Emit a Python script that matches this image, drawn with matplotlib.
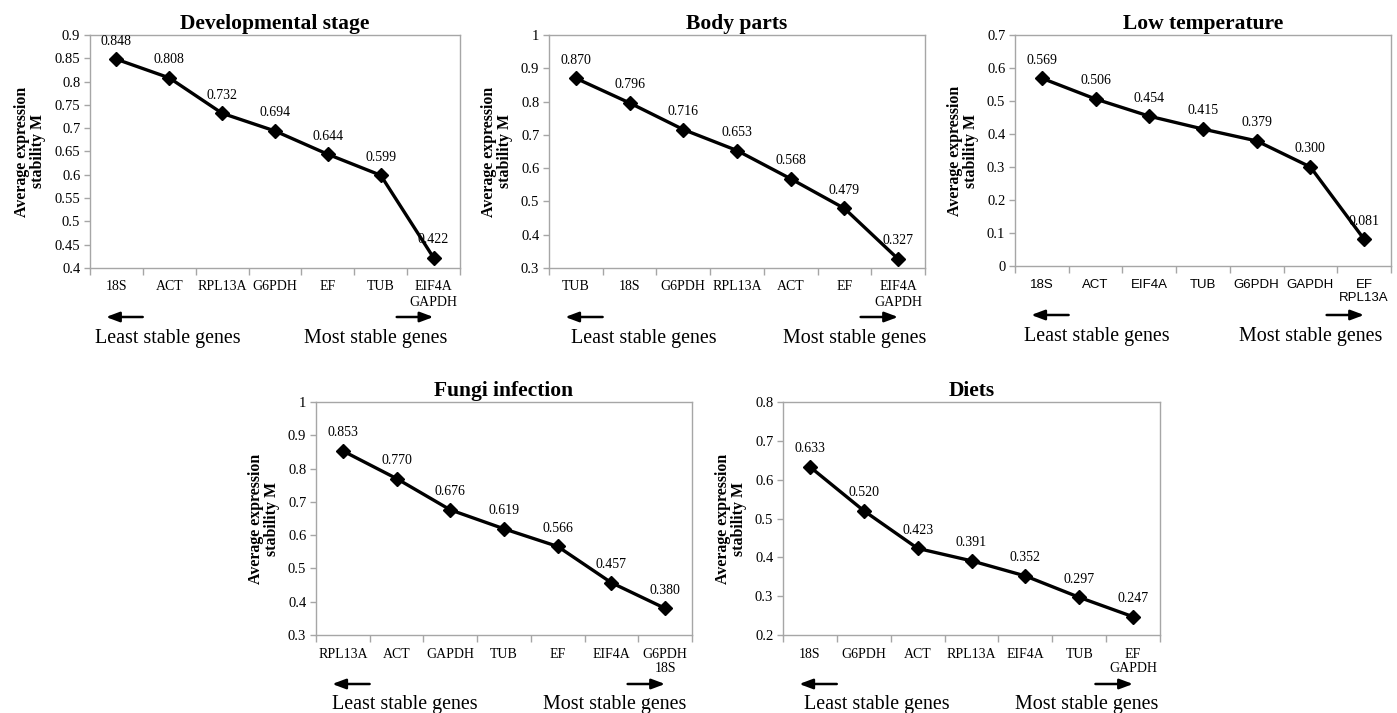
import matplotlib
matplotlib.use("Agg")
import matplotlib.pyplot as plt

# ---------------- data ----------------
titles = ["Developmental stage", "Body parts", "Low temperature", "Fungi infection", "Diets"]

genes_dev = ["18S", "ACT", "RPL13A", "G6PDH", "EF", "TUB", "EIF4A\nGAPDH"]
m_dev = [0.848, 0.808, 0.732, 0.694, 0.644, 0.599, 0.422]

genes_body = ["TUB", "18S", "G6PDH", "RPL13A", "ACT", "EF", "EIF4A\nGAPDH"]
m_body = [0.870, 0.796, 0.716, 0.653, 0.568, 0.479, 0.327]

genes_low = ["18S", "ACT", "EIF4A", "TUB", "G6PDH", "GAPDH", "EF\nRPL13A"]
m_low = [0.569, 0.506, 0.454, 0.415, 0.379, 0.300, 0.081]

genes_fungi = ["RPL13A", "ACT", "GAPDH", "TUB", "EF", "EIF4A", "G6PDH\n18S"]
m_fungi = [0.853, 0.770, 0.676, 0.619, 0.566, 0.457, 0.380]

genes_diet = ["18S", "G6PDH", "ACT", "RPL13A", "EIF4A", "TUB", "EF\nGAPDH"]
m_diet = [0.633, 0.520, 0.423, 0.391, 0.352, 0.297, 0.247]

yticks_dev = [0.4, 0.45, 0.5, 0.55, 0.6, 0.65, 0.7, 0.75, 0.8, 0.85, 0.9]
yticks_body = [0.3, 0.4, 0.5, 0.6, 0.7, 0.8, 0.9, 1.0]
yticks_low = [0, 0.1, 0.2, 0.3, 0.4, 0.5, 0.6, 0.7]
yticks_fungi = [0.3, 0.4, 0.5, 0.6, 0.7, 0.8, 0.9, 1.0]
yticks_diet = [0.2, 0.3, 0.4, 0.5, 0.6, 0.7, 0.8]

# ---------------- layout (pixels) ----------------
W, H = 1397, 713
fig = plt.figure(figsize=(W / 100, H / 100), dpi=100)
fig.patch.set_facecolor("white")

# left, right, top, bottom (px), least-text center, most-text center, sans ticks
layout = [
    (90, 460, 35, 268, 168, 376, False),
    (549, 925, 35, 268, 644, 855, False),
    (1015, 1391, 35, 266, 1097, 1311, True),
    (316, 692, 402, 635, 405, 615, False),
    (783, 1160, 402, 635, 877, 1087, False),
]

panels = [
    (genes_dev, m_dev, yticks_dev),
    (genes_body, m_body, yticks_body),
    (genes_low, m_low, yticks_low),
    (genes_fungi, m_fungi, yticks_fungi),
    (genes_diet, m_diet, yticks_diet),
]

serif = ["Liberation Serif", "DejaVu Serif"]
sans = ["Liberation Sans", "DejaVu Sans"]
gray = "#a6a6a6"


def fmt(v):
    s = ("%.2f" % v).rstrip("0").rstrip(".")
    return s


for (genes, vals, yt), (l, r, t, b, lc, mc, use_sans), title in zip(panels, layout, titles):
    ax = fig.add_axes([l / W, 1 - b / H, (r - l) / W, (b - t) / H])
    x = list(range(len(genes)))
    ax.plot(x, vals, color="black", lw=2.4, marker="D", ms=7, zorder=3)
    ax.set_xlim(-0.5, len(genes) - 0.5)
    ax.set_ylim(yt[0], yt[-1])
    ax.set_yticks(yt)
    ax.set_yticklabels([fmt(v) for v in yt], fontfamily=serif, fontsize=10.5)
    ax.set_xticks(x)
    ax.set_xticklabels(genes, fontfamily=sans if use_sans else serif,
                       fontsize=9.5 if use_sans else 10, linespacing=1.2)
    ax.set_xticks([i + 0.5 for i in range(-1, len(genes))], minor=True)
    ax.tick_params(axis="x", which="major", length=0, pad=9)
    ax.tick_params(axis="x", which="minor", length=5, color=gray, width=1, direction="out")
    ax.tick_params(axis="y", which="major", length=4, color=gray, width=1, direction="out", pad=3)
    for sp in ax.spines.values():
        sp.set_color(gray)
        sp.set_linewidth(1)
    for xi, v in zip(x, vals):
        ax.annotate("%.3f" % v, (xi, v), xytext=(0, 13), textcoords="offset points",
                    ha="center", va="center", fontfamily=serif, fontsize=10, zorder=4)
    ax.set_title(title, fontfamily=serif, fontweight="bold", fontsize=15.5, pad=4)
    ax.set_ylabel("Average expression\nstability M", fontfamily=serif, fontweight="bold",
                  fontsize=11.4, linespacing=1.0, labelpad=6)

    # arrows and captions
    cw = (r - l) / len(genes)
    ay = b + 49
    ty = b + 70
    la0 = l + cw * 0.25
    la1 = l + cw * 1.05
    ra0 = r - cw * 1.25
    ra1 = r - cw * 0.45
    fig.add_artist(matplotlib.patches.FancyArrowPatch(
        (la1 / W, 1 - ay / H), (la0 / W, 1 - ay / H), transform=fig.transFigure,
        arrowstyle="-|>,head_length=8,head_width=3", mutation_scale=1, lw=1.8, color="black"))
    fig.add_artist(matplotlib.patches.FancyArrowPatch(
        (ra0 / W, 1 - ay / H), (ra1 / W, 1 - ay / H), transform=fig.transFigure,
        arrowstyle="-|>,head_length=8,head_width=3", mutation_scale=1, lw=1.8, color="black"))
    fig.text(lc / W, 1 - ty / H, "Least stable genes", ha="center", va="center",
             fontfamily=serif, fontsize=14.4)
    fig.text(mc / W, 1 - ty / H, "Most stable genes", ha="center", va="center",
             fontfamily=serif, fontsize=14.4)

fig.savefig("out.png", dpi=100, facecolor="white")
